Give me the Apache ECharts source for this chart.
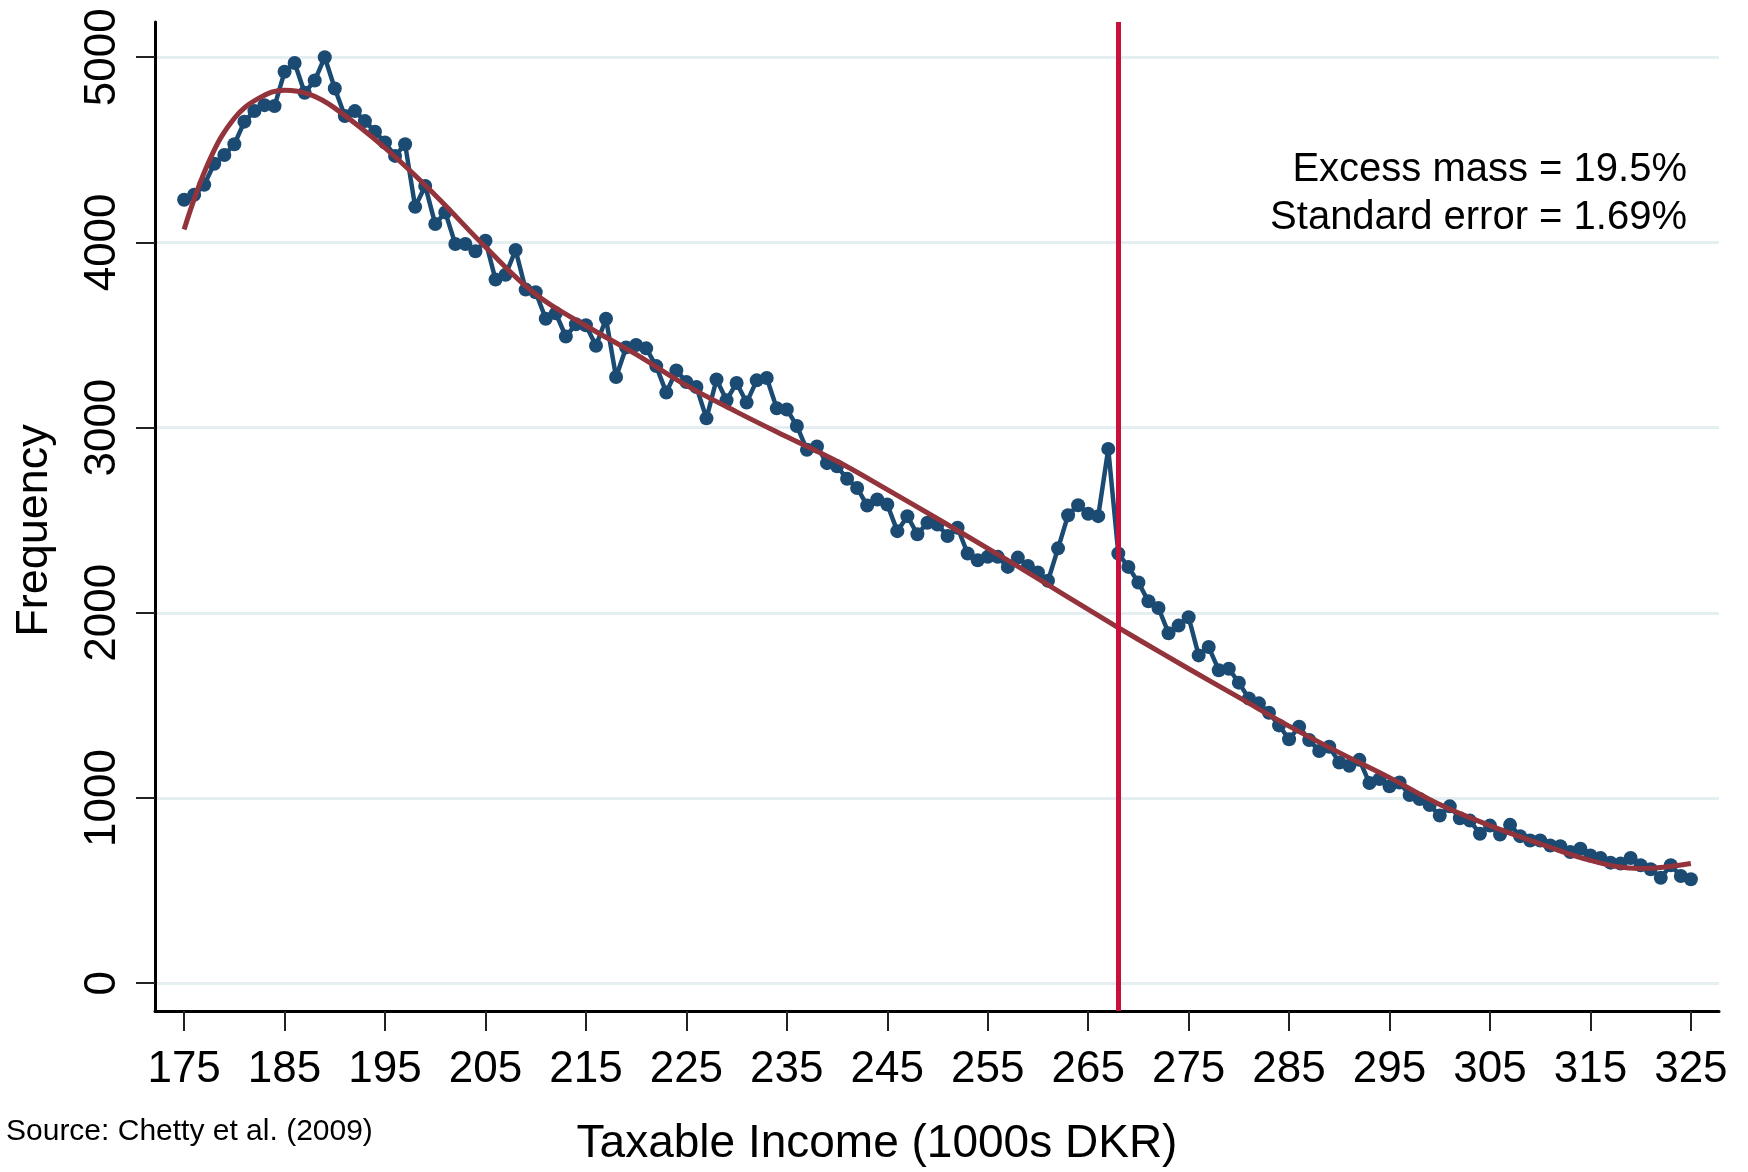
<!DOCTYPE html>
<html>
<head>
<meta charset="utf-8">
<script src="https://cdn.jsdelivr.net/npm/echarts@6/dist/echarts.min.js"></script>
<style>
  html, body { margin: 0; padding: 0; background: #fff; }
  #chart { width: 1748px; height: 1172px; }
</style>
</head>
<body>
<div id="chart"></div>
<script>
// income bins (1000s DKR), one bin per 1000
const binStart = 175
const freq = [
  4230, 4257, 4311, 4425, 4472, 4530, 4652, 4709, 4741, 4736,
  4921, 4969, 4808, 4874, 5000, 4831, 4682, 4709, 4655, 4598,
  4539, 4467, 4530, 4192, 4305, 4099, 4162, 3991, 3991, 3952,
  4009, 3799, 3825, 3959, 3745, 3731, 3588, 3617, 3492, 3558,
  3553, 3442, 3588, 3273, 3433, 3446, 3428, 3332, 3189, 3308,
  3246, 3219, 3050, 3260, 3148, 3241, 3135, 3255, 3268, 3104,
  3098, 3009, 2880, 2898, 2808, 2791, 2724, 2674, 2579, 2612,
  2585, 2441, 2522, 2424, 2486, 2477, 2415, 2459, 2320, 2284,
  2302, 2302, 2248, 2298, 2253, 2218, 2173, 2348, 2527, 2581,
  2535, 2522, 2885, 2320, 2248, 2164, 2062, 2026, 1890, 1931,
  1976, 1770, 1815, 1690, 1698, 1623, 1537, 1511, 1460, 1392,
  1317, 1385, 1313, 1254, 1277, 1192, 1174, 1206, 1081, 1102,
  1063, 1084, 1016, 995, 962, 905, 955, 891, 878, 807,
  851, 803, 855, 794, 771, 771, 744, 740, 708, 726,
  690, 676, 651, 646, 676, 637, 615, 569, 637, 579,
  561
]

// counterfactual polynomial fit
const fitX = [175, 177.5, 180, 182.5, 185, 187.5, 190, 195, 200, 205, 210, 215, 220, 225, 230, 235,
  240, 245, 250, 255, 260, 265, 270, 275, 280, 285, 290, 295, 300, 305, 310, 315, 320, 325]
const fitY = [4070, 4440, 4670, 4780, 4822, 4799, 4725, 4510, 4255, 3975, 3720, 3550, 3395, 3228, 3085, 2950,
  2818, 2665, 2508, 2348, 2185, 2018, 1856, 1698, 1543, 1388, 1245, 1110, 965, 851, 753, 663, 619, 646]

const xTicks = [175, 185, 195, 205, 215, 225, 235, 245, 255, 265, 275, 285, 295, 305, 315, 325]
const yTicks = [0, 1000, 2000, 3000, 4000, 5000]
const cutoff = 268

const notes = ['Excess mass = 19.5%', 'Standard error = 1.69%']
const source = 'Source: Chetty et al. (2009)'

const font = '"Liberation Sans", Arial, sans-serif'

let points = freq.map((v, i) => [binStart + i, v])
let fit = fitX.map((x, i) => [x, fitY[i]])

let myChart = echarts.init(document.getElementById('chart'))
myChart.setOption({
  animation: false,
  backgroundColor: '#fff',
  grid: { left: 155, right: 29, top: 22, bottom: 156 },
  xAxis: {
    type: 'value',
    min: 172.1,
    max: 327.8,
    name: 'Taxable Income (1000s DKR)',
    nameLocation: 'middle',
    nameGap: 110,
    nameTextStyle: { fontFamily: font, fontSize: 46, color: '#000', padding: [0, 120, 0, 0] },
    axisLine: { onZero: false, lineStyle: { color: '#000', width: 3 } },
    axisTick: { customValues: xTicks, length: 20, lineStyle: { color: '#222', width: 2 } },
    axisLabel: { customValues: xTicks, margin: 37, fontFamily: font, fontSize: 44, color: '#000' },
    splitLine: { show: false }
  },
  yAxis: {
    type: 'value',
    min: -150,
    max: 5190,
    name: 'Frequency',
    nameLocation: 'middle',
    nameGap: 98,
    nameRotate: 90,
    nameTextStyle: { fontFamily: font, fontSize: 45, color: '#000', padding: [0, 28, 0, 0] },
    axisLine: { onZero: false, lineStyle: { color: '#000', width: 3 } },
    axisTick: { customValues: yTicks, length: 19, lineStyle: { color: '#222', width: 2 } },
    axisLabel: {
      customValues: yTicks, rotate: 90, margin: 30, fontFamily: font, fontSize: 44, color: '#000',
      formatter: (v) => String(v)
    },
    splitLine: { show: true, lineStyle: { color: '#e5eef1', width: 3 } }
  },
  graphic: [
    {
      type: 'text', right: 61, top: 150,
      style: { text: notes[0], font: '40px ' + font, fill: '#000', textAlign: 'right' }
    },
    {
      type: 'text', right: 61, top: 198,
      style: { text: notes[1], font: '40px ' + font, fill: '#000', textAlign: 'right' }
    },
    {
      type: 'text', left: 6, top: 1117,
      style: { text: source, font: '30px ' + font, fill: '#000' }
    }
  ],
  series: [
    {
      type: 'line',
      data: [],
      z: 1,
      markLine: {
        silent: true,
        symbol: ['none', 'none'],
        label: { show: false },
        lineStyle: { color: '#c8103c', width: 5, type: 'solid' },
        data: [{ xAxis: cutoff }]
      }
    },
    {
      type: 'line',
      data: points,
      z: 3,
      symbol: 'circle',
      symbolSize: 14,
      itemStyle: { color: '#1b4a72' },
      lineStyle: { color: '#1b4a72', width: 4.5 }
    },
    {
      type: 'line',
      data: fit,
      z: 4,
      smooth: 0.4,
      showSymbol: false,
      lineStyle: { color: '#93333b', width: 5 }
    }
  ]
})
</script>
</body>
</html>
